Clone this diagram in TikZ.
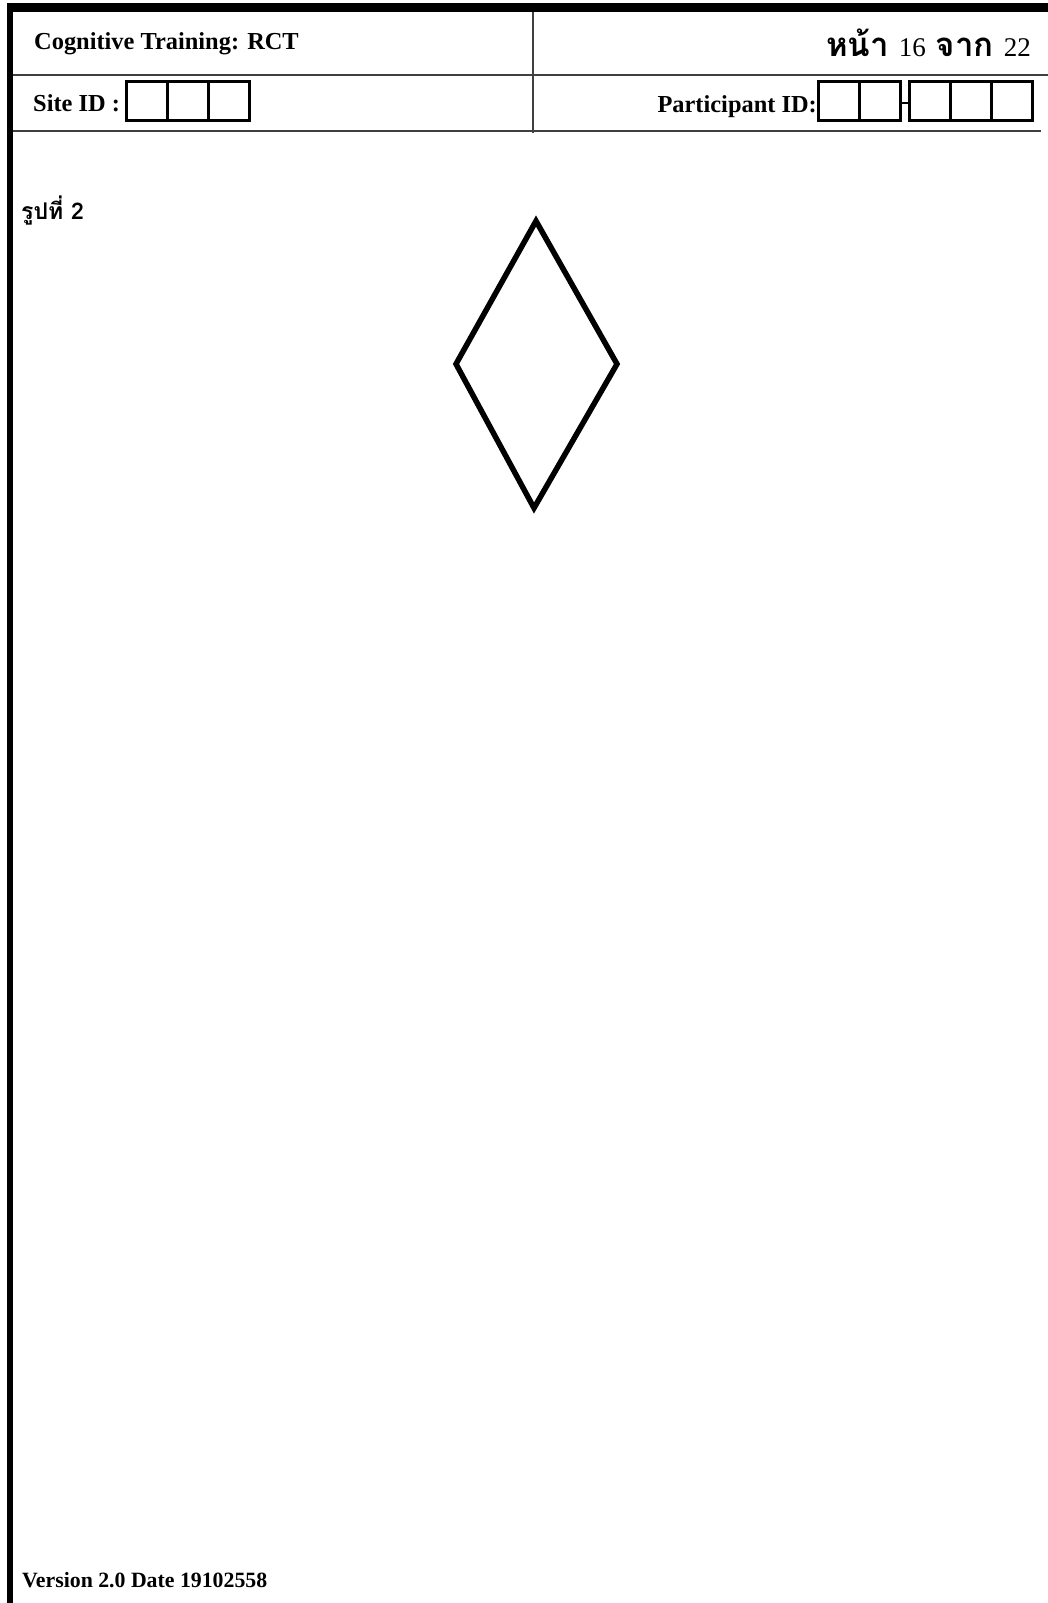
\documentclass[tikz,border=0pt]{standalone}
\usepackage{fontspec}
\setmainfont{Liberation Serif}
\newfontfamily\thaifont[Script=Thai]{Loma}
\newcommand{\thw}[1]{{\thaifont\bfseries\fontsize{33}{35}\selectfont #1}}
\begin{document}
\begin{tikzpicture}[x=1pt,y=-1pt,
  lbl/.style={inner sep=0pt, anchor=base west, font=\fontsize{24.4}{28}\selectfont\bfseries},
  idbox/.style={draw=black, line width=3pt, minimum width=41pt, minimum height=39pt, inner sep=0pt},
  rule/.style={draw=black!75, line width=2pt}]
\useasboundingbox (0,0) rectangle (1048,1603);
\fill[white] (0,0) rectangle (1048,1603);
% thick frame
\fill[black] (7,3) rectangle (1048,12);
\fill[black] (7,3) rectangle (13,1603);
% header rules
\coordinate (r1a) at (13,75);
\coordinate (r1b) at (1048,75);
\coordinate (r2a) at (13,131);
\coordinate (r2b) at (1041,131);
\coordinate (dva) at (533,12);
\coordinate (dvb) at (533,133);
\draw[rule] (r1a) -- (r1b);
\draw[rule] (r2a) -- (r2b);
\draw[rule] (dva) -- (dvb);
% header texts
\node[lbl] (title) at (34,49) {Cognitive Training: RCT};
\node[inner sep=0pt, anchor=base east, font=\fontsize{27}{30}\selectfont] (page) at (1031,57)
  {\thw{หน้า}\hspace{10pt}16\hspace{10pt}\thw{จาก}\hspace{10pt}22};
\node[lbl] (site) at (33,111) {Site ID :};
\node[idbox] (s1) at (146.5,100.5) {};
\node[idbox] (s2) at (187.5,100.5) {};
\node[idbox] (s3) at (228.5,100.5) {};
\node[lbl, anchor=base east] (part) at (817,112) {Participant ID:};
\node[idbox] (p1) at (838.5,101) {};
\node[idbox] (p2) at (879.5,101) {};
\coordinate (da) at (900,103);
\coordinate (db) at (908,103);
\draw[line width=1.5pt] (da) -- (db);
\node[idbox] (p3) at (930,101) {};
\node[idbox] (p4) at (971,101) {};
\node[idbox] (p5) at (1012,101) {};
% figure label
\node[inner sep=0pt, anchor=base west, font=\thaifont\bfseries\fontsize{23}{25}\selectfont] (fig) at (21,219) {รูปที่ 2};
% diamond
\coordinate (dt) at (536,221);
\coordinate (dr) at (617,364);
\coordinate (dbm) at (534,508);
\coordinate (dl) at (456,364);
\draw[line width=5.5pt, line join=miter, miter limit=10] (dt) -- (dr) -- (dbm) -- (dl) -- cycle;
% footer
\node[inner sep=0pt, anchor=base west, font=\fontsize{21.8}{24}\selectfont\bfseries] (ver) at (22,1587) {Version 2.0 Date 19102558};
\end{tikzpicture}
\end{document}
